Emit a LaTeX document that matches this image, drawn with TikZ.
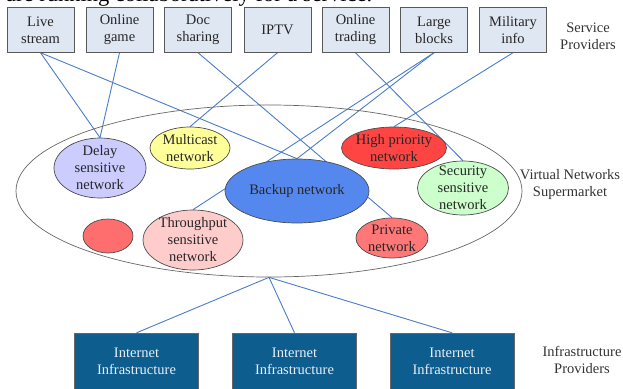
\documentclass[tikz,border=0pt]{standalone}
\usepackage{fontspec}
\setmainfont{Liberation Serif}
\usetikzlibrary{shapes.geometric}
\pgfdeclarelayer{bg}
\pgfsetlayers{bg,main}
\definecolor{linkc}{HTML}{4A7CCB}
\definecolor{spfill}{HTML}{DFE7F3}
\definecolor{ipfill}{HTML}{0D5D8F}
\definecolor{iptext}{HTML}{E8EEF6}
\definecolor{delayc}{HTML}{CCCCFF}
\definecolor{multic}{HTML}{FFFF99}
\definecolor{backupc}{HTML}{5588EE}
\definecolor{redsmall}{HTML}{FF6E6E}
\definecolor{thruc}{HTML}{FFCCCC}
\definecolor{highc}{HTML}{FF4444}
\definecolor{secc}{HTML}{CCFFCC}
\definecolor{privc}{HTML}{FF7777}
\begin{document}
\begin{tikzpicture}[x=1pt,y=-1pt,
  font=\fontsize{14.5}{17}\selectfont,
  spbox/.style={draw=black!65, fill=spfill, minimum width=67pt, minimum height=45pt, inner sep=0pt, align=center, text=black!85},
  vnet/.style={ellipse, draw=black!70, line width=0.7pt, inner sep=0pt},
  vtxt/.style={align=center, inner sep=0pt, text=black!85},
  ipbox/.style={draw=black!60, fill=ipfill, text=iptext, minimum width=124pt, minimum height=57pt, inner sep=0pt, align=center},
  side/.style={align=center, inner sep=0pt, text=black!80},
  link/.style={draw=linkc, line width=0.9pt}]
\useasboundingbox (0,0) rectangle (623,388);

% cut-off caption line at the very top
\node[anchor=base west, inner sep=0pt, font=\fontsize{22.5}{24}\selectfont] (cut) at (6,1.5) {are running collaboratively for a service.};

% service providers
\node[spbox] (live) at (40.5,30) {Live\\stream};
\node[spbox] (game) at (119.5,30) {Online\\game};
\node[spbox] (doc) at (198,30) {Doc\\sharing};
\node[spbox] (iptv) at (277.5,30) {IPTV};
\node[spbox] (trade) at (355.5,30) {Online\\trading};
\node[spbox] (large) at (434,30) {Large\\blocks};
\node[spbox] (mil) at (513,30) {Military\\info};
\node[side] (splab) at (588,36) {Service\\Providers};

% virtual networks supermarket
\node[ellipse, draw=black!60, line width=0.7pt, minimum width=506pt, minimum height=172pt, inner sep=0pt] (vns) at (269,191) {};
\node[side] (vnslab) at (570,185) {Virtual Networks\\Supermarket};

\node[vnet, fill=delayc, minimum width=92pt, minimum height=60pt] (delay) at (100,168) {};
\node[vtxt] (delayt) at (delay) {Delay\\sensitive\\network};
\node[vnet, fill=multic, minimum width=80pt, minimum height=42pt] (multi) at (190,148) {};
\node[vtxt] (multit) at (multi) {Multicast\\network};
\node[vnet, fill=backupc, minimum width=144pt, minimum height=64pt] (backup) at (297,191) {};
\node[vtxt] (backupt) at (backup) {Backup network};
\node[vnet, fill=redsmall, minimum width=50pt, minimum height=34pt] (small) at (108,236) {};
\node[vnet, fill=thruc, minimum width=100pt, minimum height=60pt] (thru) at (193,240) {};
\node[vtxt] (thrut) at (thru) {Throughput\\sensitive\\network};
\node[vnet, fill=highc, minimum width=105pt, minimum height=42pt] (high) at (394,148) {};
\node[vtxt] (hight) at (high) {High priority\\network};
\node[vnet, fill=secc, minimum width=91pt, minimum height=54pt] (sec) at (463,188) {};
\node[vtxt] (sect) at (sec) {Security\\sensitive\\network};
\node[vnet, fill=privc, minimum width=72pt, minimum height=40pt] (priv) at (392,238) {};
\node[vtxt] (privt) at (priv) {Private\\network};

% infrastructure providers
\node[ipbox] (ip1) at (136.5,361.5) {Internet\\Infrastructure};
\node[ipbox] (ip2) at (294.5,361.5) {Internet\\Infrastructure};
\node[ipbox] (ip3) at (452,361.5) {Internet\\Infrastructure};
\node[side] (iplab) at (582,360) {Infrastructure\\Providers};

\begin{pgfonlayer}{bg}
\draw[link] (live.south) -- (delay.north);
\draw[link] (game.south) -- (delay.north);
\draw[link] (live.south) -- (backup.north);
\draw[link] (doc.south) -- (priv.north);
\draw[link] (iptv.south) -- (multi.north);
\draw[link] (trade.south) -- (sec.north);
\draw[link] (large.south) -- (thru.north);
\draw[link] (large.south) -- (backup.north);
\draw[link] (mil.south) -- (high.north);
\draw[link] (vns.south) -- (ip1.north);
\draw[link] (vns.south) -- (ip2.north);
\draw[link] (vns.south) -- (ip3.north);
\end{pgfonlayer}
\end{tikzpicture}
\end{document}
